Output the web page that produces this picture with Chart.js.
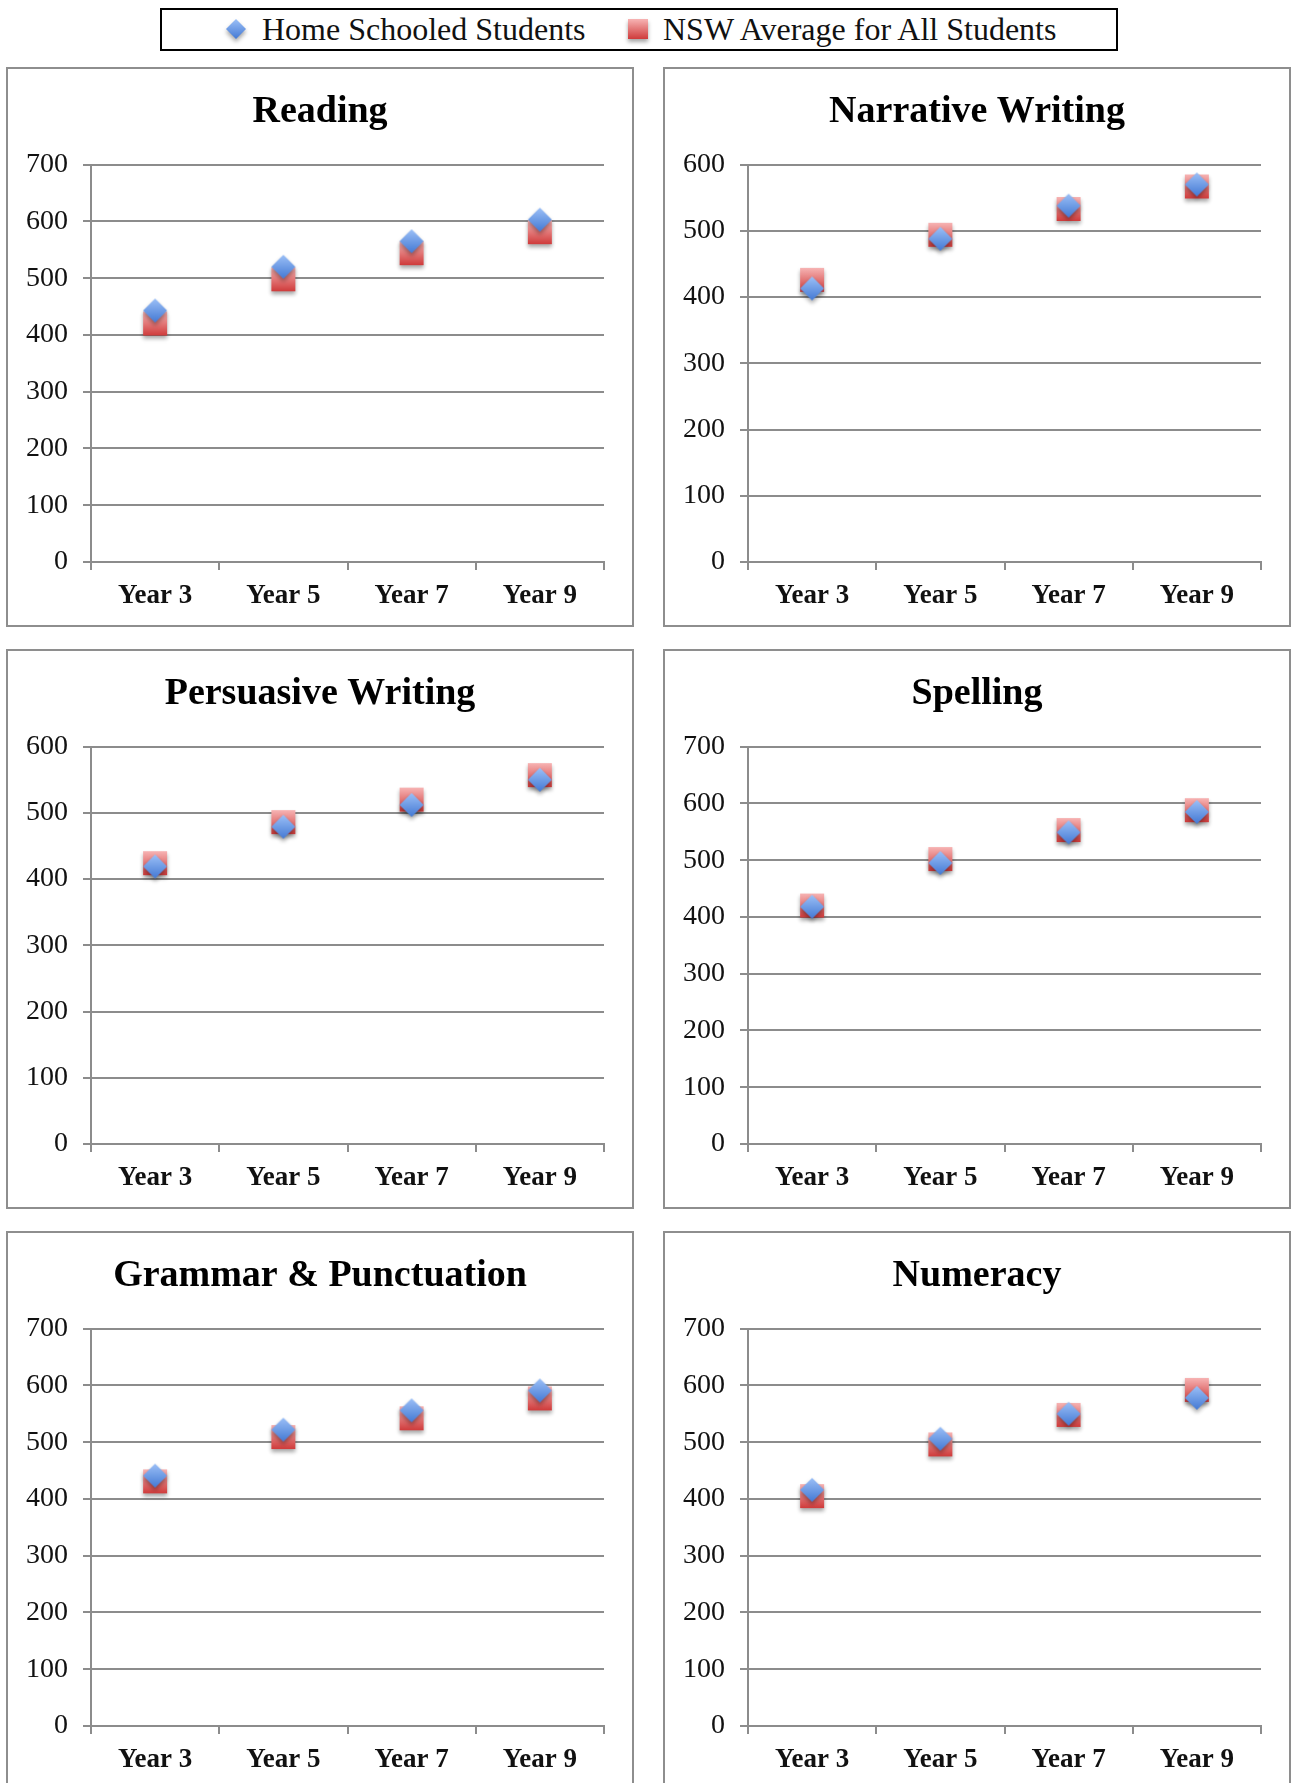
<!DOCTYPE html>
<html lang="en">
<head>
  <meta charset="UTF-8">
  <title>NAPLAN results: Home Schooled vs NSW Average</title>
  <script src="https://cdn.jsdelivr.net/npm/chart.js"></script>
  <style>
    html, body {
      margin: 0;
      padding: 0;
      background: #fff;
      width: 1292px;
      height: 1783px;
      overflow: hidden;
      font-family: 'Liberation Serif', serif;
    }
    .legend {
      position: absolute;
      left: 160px;
      top: 8px;
      width: 954px;
      height: 39px;
      border: 2px solid #000;
      font-size: 32px;
      color: #111;
    }
    .legend span { position: absolute; top: 0; line-height: 39px; white-space: nowrap; }
    .legend canvas { position: absolute; }
    .panel {
      position: absolute;
      width: 624px;
      height: 556px;
      border: 2px solid #8e8e8e;
    }
  </style>
</head>
<body>

  <div class="legend" id="legend">
    <span style="left:100px">Home Schooled Students</span>
    <span style="left:501px">NSW Average for All Students</span>
  </div>
  <div id="panels"></div>

  <script>
    const years = ["Year 3", "Year 5", "Year 7", "Year 9"];
    const seriesNames = ["Home Schooled Students", "NSW Average for All Students"];

    const subjects = ["Reading", "Narrative Writing", "Persuasive Writing", "Spelling", "Grammar & Punctuation", "Numeracy"];
    const axisMax = [700, 600, 600, 700, 700, 700];

    const readingHome = [443, 520, 565, 603];
    const readingNsw = [420, 498, 544, 581];
    const narrativeHome = [413, 488, 538, 570];
    const narrativeNsw = [426, 494, 533, 567];
    const persuasiveHome = [419, 479, 512, 550];
    const persuasiveNsw = [424, 486, 520, 557];
    const spellingHome = [418, 495, 549, 585];
    const spellingNsw = [420, 502, 553, 588];
    const grammarHome = [441, 522, 556, 591];
    const grammarNsw = [431, 509, 542, 577];
    const numeracyHome = [416, 506, 550, 578];
    const numeracyNsw = [405, 496, 548, 592];

    const homeData = [readingHome, narrativeHome, persuasiveHome, spellingHome, grammarHome, numeracyHome];
    const nswData = [readingNsw, narrativeNsw, persuasiveNsw, spellingNsw, grammarNsw, numeracyNsw];

    const gridGrey = "#8c8c8c";

    // gradient marker sprites with a soft drop shadow
    function makeMarker(shape, size, top, bottom) {
      const pad = 8;
      const c = document.createElement("canvas");
      c.width = c.height = size + pad * 2;
      const g = c.getContext("2d");
      g.shadowColor = "rgba(0,0,0,0.35)";
      g.shadowBlur = 4;
      g.shadowOffsetY = 3;
      const grad = g.createLinearGradient(0, pad, 0, pad + size);
      grad.addColorStop(0, top);
      grad.addColorStop(1, bottom);
      g.fillStyle = grad;
      g.beginPath();
      const m = pad + size / 2;
      if (shape === "diamond") {
        g.moveTo(m, pad);
        g.lineTo(pad + size, m);
        g.lineTo(m, pad + size);
        g.lineTo(pad, m);
        g.closePath();
      } else {
        g.rect(pad, pad, size, size);
      }
      g.fill();
      return c;
    }

    const diamond = makeMarker("diamond", 24, "#9cc0f7", "#4379d4");
    const square = makeMarker("square", 24, "#f7b4b4", "#cf3b3b");

    // legend swatches
    const legend = document.getElementById("legend");
    const legDiamond = makeMarker("diamond", 20, "#9cc0f7", "#4379d4");
    const legSquare = makeMarker("square", 20, "#f7b4b4", "#cf3b3b");
    legDiamond.style.left = (74 - legDiamond.width / 2) + "px";
    legDiamond.style.top = (19 - legDiamond.height / 2) + "px";
    legSquare.style.left = (476 - legSquare.width / 2) + "px";
    legSquare.style.top = (19 - legSquare.height / 2) + "px";
    legend.appendChild(legDiamond);
    legend.appendChild(legSquare);

    const lefts = [6, 663];
    const tops = [67, 649, 1231];
    const holder = document.getElementById("panels");

    subjects.forEach((name, i) => {
      const panel = document.createElement("div");
      panel.className = "panel";
      panel.style.left = lefts[i % 2] + "px";
      panel.style.top = tops[Math.floor(i / 2)] + "px";
      const canvas = document.createElement("canvas");
      canvas.width = 624;
      canvas.height = 556;
      panel.appendChild(canvas);
      holder.appendChild(panel);

      new Chart(canvas.getContext("2d"), {
        type: "line",
        data: {
          labels: years,
          datasets: [
            {
              label: seriesNames[0],
              data: homeData[i],
              showLine: false,
              pointStyle: diamond,
              pointRadius: 12
            },
            {
              label: seriesNames[1],
              data: nswData[i],
              showLine: false,
              pointStyle: square,
              pointRadius: 12
            }
          ]
        },
        options: {
          responsive: false,
          animation: false,
          layout: { padding: { left: 14, right: 14, top: 0, bottom: 0 } },
          plugins: {
            legend: { display: false },
            tooltip: { enabled: false },
            title: {
              display: true,
              text: name,
              color: "#000",
              font: { family: "'Liberation Serif', serif", size: 38, weight: "bold" },
              padding: { top: 20, bottom: 30 }
            }
          },
          scales: {
            x: {
              offset: true,
              grid: {
                offset: true,
                drawOnChartArea: false,
                color: gridGrey,
                lineWidth: 2,
                tickLength: 8
              },
              border: { color: gridGrey, width: 2 },
              ticks: {
                color: "#111",
                padding: 10,
                font: { family: "'Liberation Serif', serif", size: 27, weight: "bold" }
              },
              afterFit: (scale) => { scale.height = 63; }
            },
            y: {
              min: 0,
              max: axisMax[i],
              grid: { color: gridGrey, lineWidth: 2, tickLength: 8 },
              border: { color: gridGrey, width: 2 },
              ticks: {
                stepSize: 100,
                color: "#111",
                padding: 15,
                font: { family: "'Liberation Serif', serif", size: 28 }
              },
              afterFit: (scale) => { scale.width = 69; }
            },
            // empty spacer on the right so the plot ends where the reference does
            spacer: {
              type: "linear",
              position: "right",
              grid: { display: false },
              border: { display: false },
              ticks: { display: false },
              afterFit: (scale) => { scale.width = 14; }
            }
          }
        }
      });
    });
  </script>

</body>
</html>
